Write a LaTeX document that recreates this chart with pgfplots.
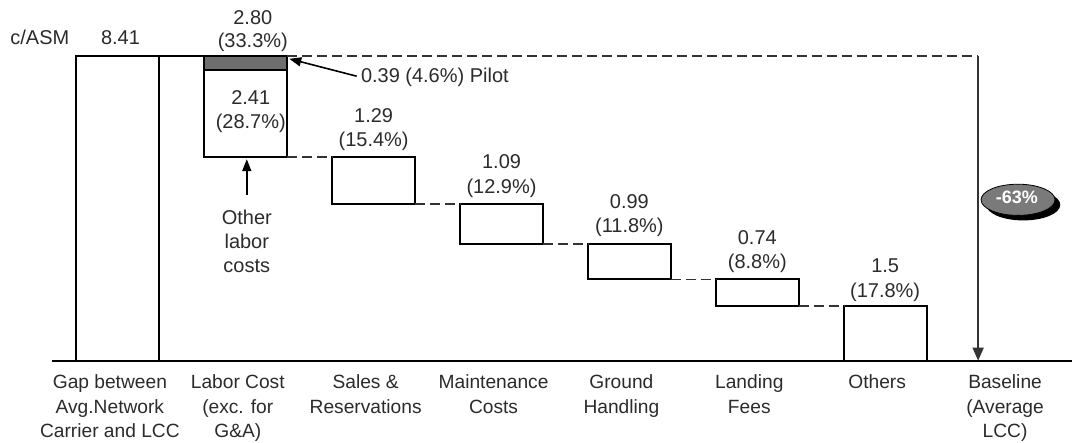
\documentclass[border=0pt]{standalone}
\usepackage{fontspec}
\setmainfont{Liberation Sans}
\usepackage{pgfplots}
\pgfplotsset{compat=1.18}
\usetikzlibrary{arrows.meta}
\definecolor{txt}{HTML}{2B2B2B}
\definecolor{pilot}{HTML}{6E6E6E}
\definecolor{dashc}{HTML}{333333}
\definecolor{badge}{HTML}{7A7A7A}
\begin{document}
\begin{tikzpicture}[font=\fontsize{10}{12.25}\selectfont]
\pgfplotsset{common/.style={x=64pt, y=18.135pt, xmin=-0.516, xmax=7.461, ymin=0, ymax=9.953, clip=false}}
% bars
\begin{axis}[common,
  axis x line=bottom, axis y line=none,
  x axis line style={-, line width=1pt, black},
  xtick={0,...,7}, major tick length=0pt, ytick=\empty,
  xticklabels={{Gap between\\Avg.Network\\Carrier and LCC},{Labor Cost\\(exc. for\\G\&A)},{Sales \&\\Reservations},{Maintenance\\Costs},{Ground\\Handling},{Landing\\Fees},{Others},{Baseline\\(Average\\LCC)}},
  xticklabel style={align=center, anchor=north, inner sep=0pt, yshift=-7pt, xshift=-4pt, text=txt, font=\fontsize{9.6}{12.25}\selectfont},
  ybar stacked, bar width=41.5pt,
]
\addplot[draw=none, fill=none] coordinates {(0,0) (1,5.61) (2,4.32) (3,3.23) (4,2.24) (5,1.50) (6,0)};
\addplot[draw=black, fill=white, line width=1pt] coordinates {(0,8.41) (1,2.41) (2,1.29) (3,1.09) (4,0.99) (5,0.74) (6,1.50)};
\addplot[draw=black, fill=pilot, line width=1pt] coordinates {(0,0) (1,0.39) (2,0) (3,0) (4,0) (5,0) (6,0)};
\end{axis}
% connectors and annotations
\begin{axis}[common, hide axis]
\path (axis cs:-0.9219,-2.261) rectangle (axis cs:7.4609,9.953);
\addplot[black, line width=1pt] coordinates {(0.324,8.41) (0.676,8.41)};
\addplot[dashc, line width=0.9pt, dash pattern=on 5pt off 2.5pt] coordinates {(1.324,8.41) (6.727,8.41)};
\addplot[dashc, line width=0.9pt, -{Triangle[length=6.5pt,width=5.5pt]}] coordinates {(6.727,8.41) (6.727,0)};
\addplot[dashc, line width=0.9pt, dash pattern=on 5pt off 2.5pt] coordinates {(1.324,5.61) (1.676,5.61)};
\addplot[dashc, line width=0.9pt, dash pattern=on 5pt off 2.5pt] coordinates {(2.324,4.32) (2.676,4.32)};
\addplot[dashc, line width=0.9pt, dash pattern=on 5pt off 2.5pt] coordinates {(3.324,3.23) (3.676,3.23)};
\addplot[dashc, line width=0.9pt, dash pattern=on 5pt off 2.5pt] coordinates {(4.324,2.24) (4.676,2.24)};
\addplot[dashc, line width=0.9pt, dash pattern=on 5pt off 2.5pt] coordinates {(5.324,1.50) (5.676,1.50)};
\addplot[black, line width=0.8pt, -{Triangle[length=6pt,width=4.5pt]}] coordinates {(1.867,7.85) (1.34,8.33)};
\addplot[black, line width=0.8pt, -{Triangle[length=6pt,width=4.5pt]}] coordinates {(1.008,4.577) (1.008,5.56)};
% texts
\begin{scope}[every node/.style={text=txt, inner sep=0pt}]
\node[anchor=base west] at (axis cs:-0.8438,8.712) {c/ASM};
\node[anchor=base] at (axis cs:0.02,8.712) {8.41};
\node[anchor=base] at (axis cs:1.055,9.29) {2.80};
\node[anchor=base] at (axis cs:1.055,8.63) {(33.3\%)};
\node[anchor=base] at (axis cs:1.039,7.07) {2.41};
\node[anchor=base] at (axis cs:1.039,6.40) {(28.7\%)};
\node[anchor=base west] at (axis cs:1.898,7.665) {0.39 (4.6\%) Pilot};
\node[anchor=base] at (axis cs:1.008,3.75) {Other};
\node[anchor=base] at (axis cs:1.008,3.088) {labor};
\node[anchor=base] at (axis cs:1.008,2.426) {costs};
\node[anchor=base] at (axis cs:2,6.585) {1.29};
\node[anchor=base] at (axis cs:2,5.91) {(15.4\%)};
\node[anchor=base] at (axis cs:3,5.295) {1.09};
\node[anchor=base] at (axis cs:3,4.62) {(12.9\%)};
\node[anchor=base] at (axis cs:4,4.205) {0.99};
\node[anchor=base] at (axis cs:4,3.53) {(11.8\%)};
\node[anchor=base] at (axis cs:5,3.215) {0.74};
\node[anchor=base] at (axis cs:5,2.54) {(8.8\%)};
\node[anchor=base] at (axis cs:6,2.43) {1.5};
\node[anchor=base] at (axis cs:6,1.75) {(17.8\%)};
\end{scope}
\fill[black] (axis cs:7.08,4.30) ellipse [x radius=18.5pt, y radius=7.8pt];
\filldraw[fill=badge, draw=black, line width=0.4pt] (axis cs:7.039,4.439) ellipse [x radius=18.5pt, y radius=7.8pt];
\node[text=white, font=\bfseries\fontsize{9}{10}\selectfont] at (axis cs:7.03,4.50) {-63\%};
\end{axis}
\end{tikzpicture}
\end{document}
